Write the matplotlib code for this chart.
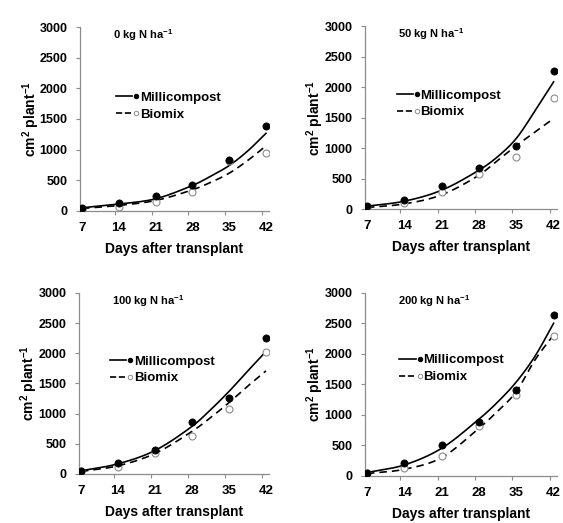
import numpy as np
import matplotlib
matplotlib.use("Agg")
import matplotlib.pyplot as plt
from matplotlib.lines import Line2D
from matplotlib.legend_handler import HandlerBase

plt.rcParams['font.family'] = ['Liberation Sans', 'DejaVu Sans']
plt.rcParams['font.weight'] = 'bold'
plt.rcParams['mathtext.fontset'] = 'custom'
plt.rcParams['mathtext.rm'] = 'Liberation Sans:bold'
plt.rcParams['mathtext.it'] = 'Liberation Sans:bold'
plt.rcParams['mathtext.bf'] = 'Liberation Sans:bold'
plt.rcParams['mathtext.default'] = 'rm'

# ---------------- data ----------------
days = [7, 14, 21, 28, 35, 42]
fit_days = [7, 14, 21, 28, 31.5, 35, 38.5, 42]
panel_titles = ["0 kg N ha$^{-1}$", "50 kg N ha$^{-1}$",
                "100 kg N ha$^{-1}$", "200 kg N ha$^{-1}$"]
series_names = ["Millicompost", "Biomix"]

milli_0 = [43, 130, 245, 429, 832, 1386]
bio_0 = [30, 60, 147, 304, 815, 951]
milli_fit_0 = [49, 109, 196, 413, 565, 739, 975, 1266]
bio_fit_0 = [38, 87, 168, 342, 465, 614, 820, 1060]

milli_50 = [49, 158, 377, 683, 1033, 2268]
bio_50 = [38, 98, 284, 585, 858, 1830]
milli_fit_50 = [49, 131, 311, 639, 860, 1160, 1610, 2087]
bio_fit_50 = [27, 87, 235, 557, 800, 1040, 1265, 1486]

milli_100 = [50, 182, 387, 867, 1254, 2249]
bio_100 = [39, 116, 348, 635, 1077, 2028]
milli_fit_100 = [50, 166, 387, 785, 1060, 1365, 1700, 2028]
bio_fit_100 = [39, 133, 337, 702, 930, 1180, 1450, 1707]

milli_200 = [55, 208, 503, 891, 1404, 2639]
bio_200 = [44, 126, 333, 820, 1328, 2295]
milli_fit_200 = [55, 180, 453, 930, 1210, 1540, 1960, 2502]
bio_fit_200 = [38, 109, 300, 781, 1060, 1382, 1900, 2311]

yticks = [0, 500, 1000, 1500, 2000, 2500, 3000]
xtick_labels = ["7", "14", "21", "28", "35", "42"]

panels = [
    (milli_0, bio_0, milli_fit_0, bio_fit_0),
    (milli_50, bio_50, milli_fit_50, bio_fit_50),
    (milli_100, bio_100, milli_fit_100, bio_fit_100),
    (milli_200, bio_200, milli_fit_200, bio_fit_200),
]

# ---------------- layout ----------------
axes_rects = [
    [0.142, 0.597, 0.336, 0.351],
    [0.648, 0.600, 0.341, 0.350],
    [0.140, 0.094, 0.338, 0.346],
    [0.648, 0.090, 0.341, 0.350],
]
legend_x = [0.19, 0.165, 0.165, 0.18]
legend_y = [0.65, 0.655, 0.655, 0.665]

GRAY = '#8c8c8c'


def smooth(xk, yk, n=200):
    """Cubic Hermite (Catmull-Rom) curve through the read trend-line points."""
    xk = np.asarray(xk, float)
    yk = np.asarray(yk, float)
    m = np.zeros_like(yk)
    m[1:-1] = (yk[2:] - yk[:-2]) / (xk[2:] - xk[:-2])
    m[0] = (yk[1] - yk[0]) / (xk[1] - xk[0])
    m[-1] = (yk[-1] - yk[-2]) / (xk[-1] - xk[-2])
    xs = np.linspace(xk[0], xk[-1], n)
    idx = np.clip(np.searchsorted(xk, xs) - 1, 0, len(xk) - 2)
    h = xk[idx + 1] - xk[idx]
    t = (xs - xk[idx]) / h
    h00 = 2 * t**3 - 3 * t**2 + 1
    h10 = t**3 - 2 * t**2 + t
    h01 = -2 * t**3 + 3 * t**2
    h11 = t**3 - t**2
    ys = h00 * yk[idx] + h10 * h * m[idx] + h01 * yk[idx + 1] + h11 * h * m[idx + 1]
    return xs, ys


class LineDot(HandlerBase):
    def create_artists(self, legend, h, xd, yd, w, ht, fs, trans):
        y = ht / 2 - yd
        ln = Line2D([-xd, -xd + 0.72 * w], [y, y], color=h.get_color(),
                    linestyle=h.get_linestyle(), linewidth=h.get_linewidth())
        mk = Line2D([-xd + 0.9 * w], [y], marker='o', linestyle='none',
                    markersize=3.2, markerfacecolor=h.get_markerfacecolor(),
                    markeredgecolor=h.get_markeredgecolor(), markeredgewidth=0.7)
        ln.set_transform(trans)
        mk.set_transform(trans)
        return [ln, mk]


fig = plt.figure(figsize=(5.63, 5.23), dpi=100)

for i, (mp, bp, mf, bf) in enumerate(panels):
    ax = fig.add_axes(axes_rects[i])
    xs, ys = smooth(fit_days, mf)
    ax.plot(xs, ys, color='black', lw=1.2, ls='-')
    xs, ys = smooth(fit_days, bf)
    ax.plot(xs, ys, color='black', lw=1.2, ls=(0, (4.5, 3)))
    ax.plot(days, bp, 'o', ms=5.0, mfc='white', mec=GRAY, mew=0.8, zorder=3)
    ax.plot(days, mp, 'o', ms=5.2, mfc='black', mec='black', mew=0.5, zorder=4)

    ax.set_xlim(6.6, 42.6)
    ax.set_ylim(0, 3000)
    ax.set_yticks(yticks)
    ax.set_yticklabels([str(v) for v in yticks])
    ax.set_xticks(days)
    ax.set_xticklabels(xtick_labels)
    ax.set_xticks([d - 0.75 for d in days[1:]], minor=True)
    ax.tick_params(axis='x', which='major', length=0, pad=8, labelsize=9.5)
    ax.tick_params(axis='x', which='minor', length=3, width=0.8, color=GRAY)
    ax.tick_params(axis='y', which='major', length=3, width=0.8, color=GRAY,
                   pad=6, labelsize=9)

    for s in ['top', 'right']:
        ax.spines[s].set_visible(False)
    for s in ['left', 'bottom']:
        ax.spines[s].set_color(GRAY)
        ax.spines[s].set_linewidth(0.9)

    ax.set_xlabel("Days after transplant", fontsize=10, fontweight='bold', labelpad=5.5)
    ax.set_ylabel("cm$^{2}$ plant$^{-1}$", fontsize=10, fontweight='bold', labelpad=-1.5)
    ax.text(0.175, 0.955, panel_titles[i], transform=ax.transAxes,
            fontsize=8, fontweight='bold', va='center', ha='left')

    h1 = Line2D([], [], color='black', lw=1.2, ls='-', marker='o',
                mfc='black', mec='black')
    h2 = Line2D([], [], color='black', lw=1.2, ls=(0, (4.5, 3)), marker='o',
                mfc='white', mec=GRAY)
    ax.legend([h1, h2], series_names, handler_map={Line2D: LineDot()},
              loc='upper left', bbox_to_anchor=(legend_x[i], legend_y[i]),
              frameon=False, handlelength=1.7, handletextpad=0.1,
              labelspacing=0.35, borderpad=0, borderaxespad=0,
              prop={'weight': 'bold', 'size': 9.5})

fig.savefig("out.png", dpi=100)
